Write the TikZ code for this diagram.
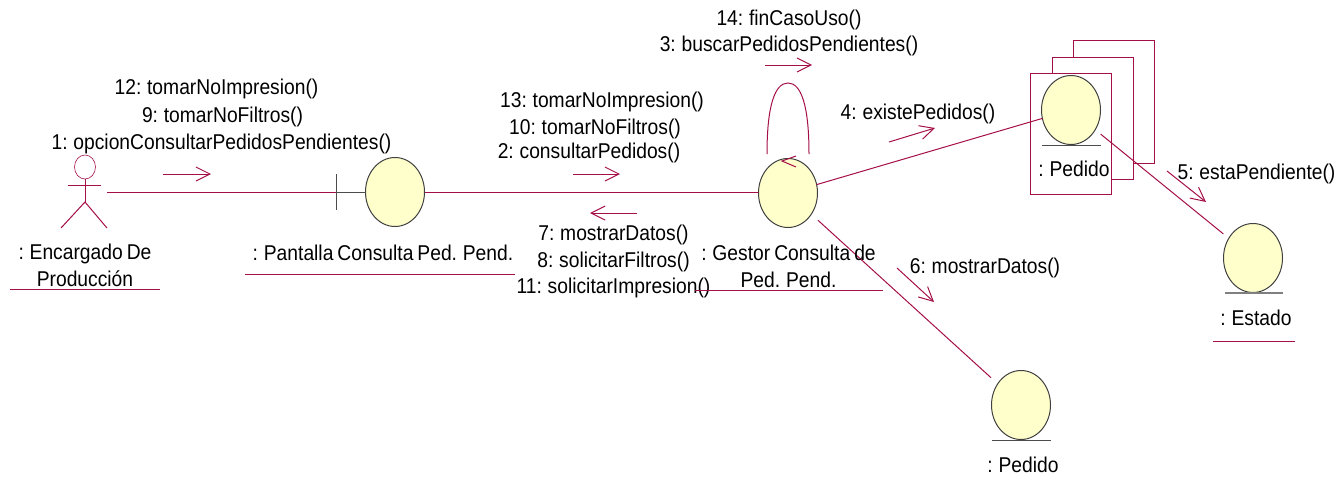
\documentclass[tikz,border=0pt]{standalone}
\usepackage{fontspec}
\setmainfont[FakeStretch=0.9,WordSpace=0.75]{Liberation Sans}
\usetikzlibrary{arrows.meta,shapes.geometric}
\definecolor{linkred}{HTML}{A50F48}
\definecolor{objfill}{HTML}{FFFFCC}
\begin{document}
\begin{tikzpicture}[x=1pt, y=-1pt, draw=linkred, text=black, align=center, font=\fontsize{21.4}{22}\selectfont, line width=1pt]
    \tikzstyle{every node}=[inner sep=0pt, outer sep=0pt];
    \tikzstyle{object}=[draw=black!75, fill=objfill, ellipse, minimum width=59, minimum height=69];
    \tikzstyle{msg}=[-{Straight Barb[length=14pt, width=14pt, line width=1pt]}];
    \tikzstyle{under}=[draw=black!70];
    \tikzstyle{lbl}=[yshift=-1.5pt];
    \useasboundingbox (0,0) rectangle (1339,488);

    % stacked boxes
    \node at (1113.5, 101.5) (boxC) [draw, minimum width=81, minimum height=123] {};
    \node at (1092.5, 118) (boxB) [draw, fill=white, minimum width=81, minimum height=122] {};
    \node at (1070.5, 133.5) (boxA) [draw, fill=white, minimum width=81, minimum height=121] {};

    % objects
    \node at (395, 192) (pantalla) [object] {};
    \node at (788, 193) (gestor) [object] {};
    \node at (1071, 110) (pedidoA) [object] {};
    \node at (1253, 258) (estado) [object] {};
    \node at (1021, 405) (pedidoB) [object] {};

    % actor
    \node at (85, 167) (head) [draw, ellipse, minimum width=21, minimum height=24, line width=0.6pt] {};
    \coordinate (hip) at (85, 202);
    \coordinate (armL) at (68, 185);
    \coordinate (armR) at (101, 185);
    \coordinate (legL) at (61, 228);
    \coordinate (legR) at (107, 228);
    \draw (head.south) -- (hip);
    \draw (armL) -- (armR);
    \draw (legL) -- (hip) -- (legR);

    % boundary tick
    \coordinate (actorEnd) at (107, 192);
    \coordinate (tick) at (336, 192);
    \coordinate (tickT) at (336, 174);
    \coordinate (tickB) at (336, 210);
    \draw[under] (tickT) -- (tickB);
    \draw[under] (tick) -- (pantalla);

    % links
    \draw (actorEnd) -- (tick);
    \draw (pantalla.east) -- (pantalla.east -| gestor.west);
    \draw (gestor) -- (pedidoA);
    \draw[shorten <=7pt, shorten >=7pt] (pedidoA) -- (estado);
    \draw[shorten <=9pt, shorten >=9pt] (gestor) -- (pedidoB);

    % self link
    \coordinate (loopL) at (767, 154);
    \coordinate (loopT) at (788, 83);
    \coordinate (loopR) at (809, 154);
    \coordinate (barbT) at (796, 156);
    \coordinate (barbB) at (796, 167);
    \coordinate (barbP) at (782, 161);
    \draw (loopL) .. controls (767, 105) and (775, 83) .. (loopT)
        .. controls (801, 83) and (809, 105) .. (loopR);
    \draw (barbT) -- (barbP) -- (barbB);

    % message arrows
    \coordinate (a1s) at (163, 174);
    \coordinate (a1e) at (211, 174);
    \coordinate (a2s) at (573, 174);
    \coordinate (a2e) at (620, 174);
    \coordinate (a3s) at (765, 65);
    \coordinate (a3e) at (812, 65);
    \coordinate (a4s) at (889, 142);
    \coordinate (a4e) at (935, 128);
    \coordinate (a5s) at (1167, 171);
    \coordinate (a5e) at (1206, 202);
    \coordinate (a6s) at (897, 268);
    \coordinate (a6e) at (934, 302);
    \coordinate (a7s) at (637, 213);
    \coordinate (a7e) at (590, 213);
    \draw[msg] (a1s) -- (a1e);
    \draw[msg] (a2s) -- (a2e);
    \draw[msg] (a3s) -- (a3e);
    \draw[msg] (a4s) -- (a4e);
    \draw[msg] (a5s) -- (a5e);
    \draw[msg] (a6s) -- (a6e);
    \draw[msg] (a7s) -- (a7e);

    % message labels
    \node at (216.5, 87) (l12) [lbl] {12: tomarNoImpresion()};
    \node at (222.5, 115) (l9) [lbl] {9: tomarNoFiltros()};
    \node at (221.5, 142) (l1) [lbl] {1: opcionConsultarPedidosPendientes()};
    \node at (602, 100) (l13) [lbl] {13: tomarNoImpresion()};
    \node at (595, 127) (l10) [lbl] {10: tomarNoFiltros()};
    \node at (589, 151) (l2) [lbl] {2: consultarPedidos()};
    \node at (789, 18) (l14) [lbl] {14: finCasoUso()};
    \node at (789, 44) (l3) [lbl] {3: buscarPedidosPendientes()};
    \node at (918, 112) (l4) [lbl] {4: existePedidos()};
    \node at (613.5, 233) (l7) [lbl] {7: mostrarDatos()};
    \node at (613.5, 260) (l8) [lbl] {8: solicitarFiltros()};
    \node at (613.5, 286) (l11) [lbl] {11: solicitarImpresion()};
    \node at (985, 266) (l6) [lbl] {6: mostrarDatos()};
    \node at (1256.5, 172) (l5) [lbl] {5: estaPendiente()};

    % object names
    \node at (85, 254) (n1) {: Encargado De};
    \node at (85, 279) (n2) {Producción};
    \node at (383, 253) (n3) {: Pantalla Consulta Ped. Pend.};
    \node at (788.5, 253) (n4) {: Gestor Consulta de};
    \node at (788.5, 280) (n5) {Ped. Pend.};
    \node at (1074, 169) (n6) {: Pedido};
    \node at (1256, 318) (n7) {: Estado};
    \node at (1023, 465) (n8) {: Pedido};

    % underlines
    \coordinate (u1s) at (10, 289);
    \coordinate (u1e) at (160, 289);
    \coordinate (u2s) at (245, 274);
    \coordinate (u2e) at (515, 274);
    \coordinate (u3s) at (695, 290);
    \coordinate (u3e) at (883, 290);
    \coordinate (u4s) at (1213, 341);
    \coordinate (u4e) at (1295, 341);
    \coordinate (u5s) at (1042, 145);
    \coordinate (u5e) at (1101, 145);
    \coordinate (u6s) at (1225, 293);
    \coordinate (u6e) at (1283, 293);
    \coordinate (u7s) at (992, 440);
    \coordinate (u7e) at (1051, 440);
    \draw (u1s) -- (u1e);
    \draw (u2s) -- (u2e);
    \draw (u3s) -- (u3e);
    \draw (u4s) -- (u4e);
    \draw[under] (u5s) -- (u5e);
    \draw[under, draw=gray, line width=1.5pt] (u6s) -- (u6e);
    \draw[under] (u7s) -- (u7e);
\end{tikzpicture}
\end{document}
